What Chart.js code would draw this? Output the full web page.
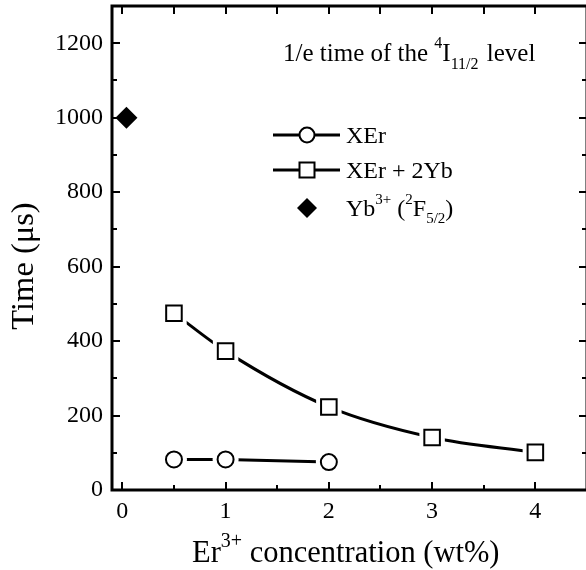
<!DOCTYPE html>
<html>
<head>
<meta charset="utf-8">
<script src="https://cdn.jsdelivr.net/npm/chart.js@4.4.1/dist/chart.umd.min.js"></script>
<style>
  html, body { margin: 0; padding: 0; background: #fff; overflow: hidden; width: 586px; height: 570px; }
  canvas { display: block; }
</style>
</head>
<body>
<canvas id="chart" width="600" height="570"></canvas>
<script>
// axis ticks
const xTicks = [0, 1, 2, 3, 4];
const xMinor = [0.5, 1.5, 2.5, 3.5];
const yTicks = [0, 200, 400, 600, 800, 1000, 1200];
const yMinor = [100, 300, 500, 700, 900, 1100, 1300];

// XEr
const erConc = [0.5, 1, 2];
const erTime = [82, 82, 75];
// XEr + 2Yb
const erYbConc = [0.5, 1, 2, 3, 4];
const erYbTime = [475, 373, 223, 141, 101];
// Yb3+ (2F5/2)
const ybConc = [0.04];
const ybTime = [1000];

const serif = '"Liberation Serif", "Times New Roman", serif';

function pts(xs, ys) {
  return xs.map((x, i) => ({ x: x, y: ys[i] }));
}

function rich(ctx, x, y, parts) {
  ctx.textAlign = "left";
  ctx.textBaseline = "alphabetic";
  for (const p of parts) {
    ctx.font = p.s + "px " + serif;
    ctx.fillText(p.t, x, y + (p.dy || 0));
    x += ctx.measureText(p.t).width + (p.gap || 0);
  }
}

const decor = {
  id: "decor",
  afterDraw(chart) {
    const ctx = chart.ctx;
    const a = chart.chartArea;
    const xs = chart.scales.x;
    const ys = chart.scales.y;
    ctx.save();
    ctx.strokeStyle = "#000";
    ctx.fillStyle = "#000";

    // frame
    ctx.lineWidth = 3;
    ctx.strokeRect(a.left, a.top, a.right - a.left, a.bottom - a.top);

    // inward ticks
    ctx.lineWidth = 2;
    ctx.beginPath();
    xTicks.forEach((v) => {
      const px = Math.round(xs.getPixelForValue(v));
      ctx.moveTo(px, a.bottom); ctx.lineTo(px, a.bottom - 8);
      ctx.moveTo(px, a.top); ctx.lineTo(px, a.top + 8);
    });
    xMinor.forEach((v) => {
      const px = Math.round(xs.getPixelForValue(v));
      ctx.moveTo(px, a.bottom); ctx.lineTo(px, a.bottom - 5);
      ctx.moveTo(px, a.top); ctx.lineTo(px, a.top + 8);
    });
    yTicks.forEach((v) => {
      const py = Math.round(ys.getPixelForValue(v));
      ctx.moveTo(a.left, py); ctx.lineTo(a.left + 8, py);
      ctx.moveTo(a.right, py); ctx.lineTo(a.right - 8, py);
    });
    yMinor.forEach((v) => {
      const py = Math.round(ys.getPixelForValue(v));
      ctx.moveTo(a.left, py); ctx.lineTo(a.left + 5, py);
      ctx.moveTo(a.right, py); ctx.lineTo(a.right - 5, py);
    });
    ctx.stroke();

    // annotation
    rich(ctx, 283, 61, [
      { t: "1/e time of the ", s: 25 },
      { t: "4", s: 16, dy: -13 },
      { t: "I", s: 25 },
      { t: "11/2", s: 16, dy: 8, gap: 2 },
      { t: " level", s: 25 },
    ]);

    // legend
    const lx0 = 273, lx1 = 340, lmx = 307, tx = 346;
    ctx.lineWidth = 3;
    [135, 170].forEach((ly) => {
      ctx.beginPath();
      ctx.moveTo(lx0, ly); ctx.lineTo(lx1, ly);
      ctx.stroke();
    });
    ctx.lineWidth = 2;
    ctx.fillStyle = "#fff";
    ctx.beginPath();
    ctx.arc(lmx, 135, 7.5, 0, Math.PI * 2);
    ctx.fill(); ctx.stroke();
    ctx.beginPath();
    ctx.rect(lmx - 7.5, 170 - 7.5, 15, 15);
    ctx.fill(); ctx.stroke();
    ctx.fillStyle = "#000";
    ctx.beginPath();
    ctx.moveTo(lmx, 208 - 10); ctx.lineTo(lmx + 10, 208);
    ctx.lineTo(lmx, 208 + 10); ctx.lineTo(lmx - 10, 208);
    ctx.closePath(); ctx.fill();

    rich(ctx, tx, 143, [{ t: "XEr", s: 24 }]);
    rich(ctx, tx, 178, [{ t: "XEr + 2Yb", s: 24 }]);
    rich(ctx, tx, 216, [
      { t: "Yb", s: 24 },
      { t: "3+", s: 15, dy: -12 },
      { t: " (", s: 24 },
      { t: "2", s: 15, dy: -12 },
      { t: "F", s: 24 },
      { t: "5/2", s: 15, dy: 7 },
      { t: ")", s: 24 },
    ]);

    // axis titles
    rich(ctx, 192, 562, [
      { t: "Er", s: 30.5 },
      { t: "3+", s: 20, dy: -15 },
      { t: " concentration (wt%)", s: 30.5 },
    ]);
    ctx.translate(33, 266);
    ctx.rotate(-Math.PI / 2);
    ctx.textAlign = "center";
    ctx.textBaseline = "alphabetic";
    ctx.font = "32.5px " + serif;
    ctx.fillText("Time (\u03bcs)", 0, 0);
    ctx.restore();
  },
};

new Chart(document.getElementById("chart").getContext("2d"), {
  type: "scatter",
  data: {
    datasets: [
      {
        label: "XEr",
        data: pts(erConc, erTime),
        pointStyle: "circle",
        pointRadius: 8,
        pointBackgroundColor: "#fff",
        pointBorderColor: "#000",
        pointBorderWidth: 2,
        showLine: false,
      },
      {
        label: "XEr + 2Yb",
        data: pts(erYbConc, erYbTime),
        pointStyle: "rect",
        pointRadius: 11,
        pointBackgroundColor: "#fff",
        pointBorderColor: "#000",
        pointBorderWidth: 2,
        showLine: false,
      },
      {
        label: "Yb3+ (2F5/2)",
        data: pts(ybConc, ybTime),
        pointStyle: "rectRot",
        pointRadius: 11,
        pointBackgroundColor: "#000",
        pointBorderColor: "#000",
        pointBorderWidth: 0,
        showLine: false,
      },
      {
        label: "XEr line",
        data: pts(erConc, erTime),
        showLine: true,
        borderColor: "#000",
        borderWidth: 3,
        pointStyle: "circle",
        pointRadius: 13,
        pointBackgroundColor: "#fff",
        pointBorderWidth: 0,
      },
      {
        label: "XEr + 2Yb line",
        data: pts(erYbConc, erYbTime),
        showLine: true,
        cubicInterpolationMode: "monotone",
        borderColor: "#000",
        borderWidth: 3,
        pointStyle: "rect",
        pointRadius: 18,
        pointBackgroundColor: "#fff",
        pointBorderWidth: 0,
      },
    ],
  },
  options: {
    responsive: false,
    animation: false,
    events: [],
    layout: { autoPadding: false, padding: { top: 6, right: 13, left: 0, bottom: 0 } },
    plugins: {
      legend: { display: false },
      tooltip: { enabled: false },
    },
    scales: {
      x: {
        type: "linear",
        min: -0.1,
        max: 4.5,
        grid: { display: false, drawTicks: false },
        border: { display: false },
        afterBuildTicks: (s) => { s.ticks = xTicks.map((v) => ({ value: v })); },
        afterFit: (s) => {
          s.height = 80;
          s.paddingLeft = 0; s.paddingRight = 0;
        },
        ticks: {
          padding: 7,
          color: "#000",
          font: { family: serif, size: 24 },
          callback: (v) => String(v),
        },
      },
      y: {
        type: "linear",
        min: 0,
        max: 1300,
        grid: { display: false, drawTicks: false },
        border: { display: false },
        afterBuildTicks: (s) => { s.ticks = yTicks.map((v) => ({ value: v })); },
        afterFit: (s) => {
          s.width = 112;
          s.paddingTop = 0; s.paddingBottom = 0;
        },
        ticks: {
          padding: 9,
          color: "#000",
          font: { family: serif, size: 24 },
          callback: (v) => String(v),
        },
      },
    },
  },
  plugins: [decor],
});
</script>
</body>
</html>
